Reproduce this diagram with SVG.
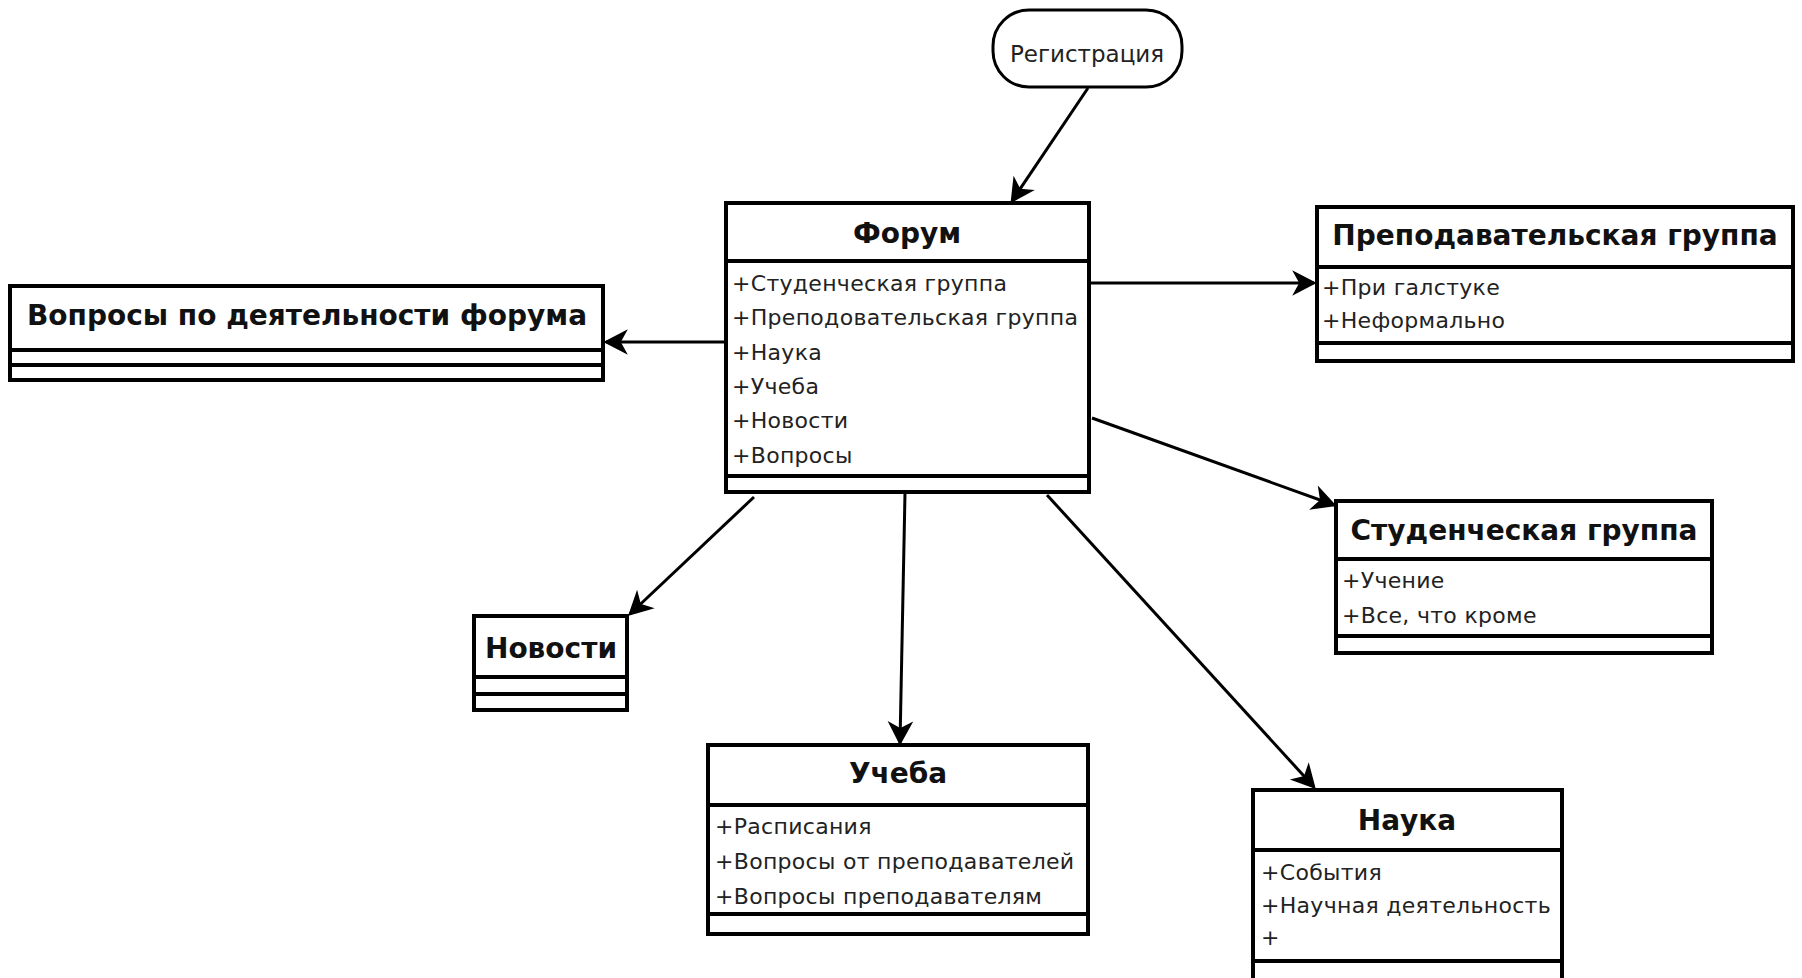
<svg xmlns="http://www.w3.org/2000/svg" width="1802" height="978" viewBox="0 0 1802 978">
<style>
.box{fill:#fff;stroke:#000;stroke-width:4}
.dv{stroke:#000;stroke-width:4}
.ttl{font-family:"DejaVu Sans","Liberation Sans",sans-serif;font-weight:bold;font-size:28px;text-anchor:middle;fill:#111}
.at{font-family:"DejaVu Sans","Liberation Sans",sans-serif;font-size:22px;letter-spacing:0.3px;fill:#222}
.cn{stroke:#000;stroke-width:3;fill:none;marker-end:url(#arr)}
</style>
<defs>
<marker id="arr" viewBox="-24 -14 28 28" refX="0" refY="0" markerWidth="28" markerHeight="28" markerUnits="userSpaceOnUse" orient="auto">
<path d="M1,0 L-20,-11 L-14,0 L-20,11 Z" fill="#000" stroke="#000" stroke-width="1.5" stroke-linejoin="miter"/>
</marker>
</defs>
<rect width="1802" height="978" fill="#fff"/>

<g id="connectors">
<line class="cn" x1="1088" y1="88" x2="1012" y2="201"/>
<line class="cn" x1="1090" y1="283" x2="1314" y2="283"/>
<line class="cn" x1="1092" y1="418" x2="1334" y2="505"/>
<line class="cn" x1="725" y1="342" x2="606" y2="342"/>
<line class="cn" x1="754" y1="497" x2="630" y2="614"/>
<line class="cn" x1="905" y1="493" x2="900" y2="743"/>
<line class="cn" x1="1047" y1="495" x2="1314" y2="787"/>
</g>

<g id="registration">
<rect x="993" y="10" width="189" height="77" rx="36" ry="36" fill="#fff" stroke="#000" stroke-width="3"/>
<text x="1087" y="62" text-anchor="middle" font-family="DejaVu Sans, Liberation Sans, sans-serif" font-size="23" fill="#222">Регистрация</text>
</g>

<g id="forum">
<rect class="box" x="726" y="203" width="363" height="289"/>
<line class="dv" x1="726" y1="261" x2="1089" y2="261"/>
<line class="dv" x1="726" y1="476" x2="1089" y2="476"/>
<text class="ttl" x="907" y="243">Форум</text>
<text class="at" x="732" y="291">+Студенческая группа</text>
<text class="at" x="732" y="325">+Преподовательская группа</text>
<text class="at" x="732" y="360">+Наука</text>
<text class="at" x="732" y="394">+Учеба</text>
<text class="at" x="732" y="428">+Новости</text>
<text class="at" x="732" y="463">+Вопросы</text>
</g>

<g id="questions">
<rect class="box" x="10" y="286" width="593" height="94"/>
<line class="dv" x1="10" y1="350" x2="603" y2="350"/>
<line class="dv" x1="10" y1="365" x2="603" y2="365"/>
<text class="ttl" x="307" y="325">Вопросы по деятельности форума</text>
</g>

<g id="teachers">
<rect class="box" x="1317" y="207" width="476" height="154"/>
<line class="dv" x1="1317" y1="267" x2="1793" y2="267"/>
<line class="dv" x1="1317" y1="343" x2="1793" y2="343"/>
<text class="ttl" x="1555" y="245">Преподавательская группа</text>
<text class="at" x="1322" y="295">+При галстуке</text>
<text class="at" x="1322" y="328">+Неформально</text>
</g>

<g id="students">
<rect class="box" x="1336" y="501" width="376" height="152"/>
<line class="dv" x1="1336" y1="559" x2="1712" y2="559"/>
<line class="dv" x1="1336" y1="636" x2="1712" y2="636"/>
<text class="ttl" x="1524" y="540">Студенческая группа</text>
<text class="at" x="1342" y="588">+Учение</text>
<text class="at" x="1342" y="623">+Все, что кроме</text>
</g>

<g id="news">
<rect class="box" x="474" y="616" width="153" height="94"/>
<line class="dv" x1="474" y1="677" x2="627" y2="677"/>
<line class="dv" x1="474" y1="694" x2="627" y2="694"/>
<text class="ttl" x="551" y="658">Новости</text>
</g>

<g id="study">
<rect class="box" x="708" y="745" width="380" height="189"/>
<line class="dv" x1="708" y1="805" x2="1088" y2="805"/>
<line class="dv" x1="708" y1="914" x2="1088" y2="914"/>
<text class="ttl" x="898" y="783">Учеба</text>
<text class="at" x="715" y="834">+Расписания</text>
<text class="at" x="715" y="869">+Вопросы от преподавателей</text>
<text class="at" x="715" y="904">+Вопросы преподавателям</text>
</g>

<g id="science">
<rect class="box" x="1253" y="790" width="309" height="200"/>
<line class="dv" x1="1253" y1="850" x2="1562" y2="850"/>
<line class="dv" x1="1253" y1="961" x2="1562" y2="961"/>
<text class="ttl" x="1407" y="830">Наука</text>
<text class="at" x="1261" y="880">+События</text>
<text class="at" x="1261" y="913">+Научная деятельность</text>
<text class="at" x="1261" y="945">+</text>
</g>
</svg>
